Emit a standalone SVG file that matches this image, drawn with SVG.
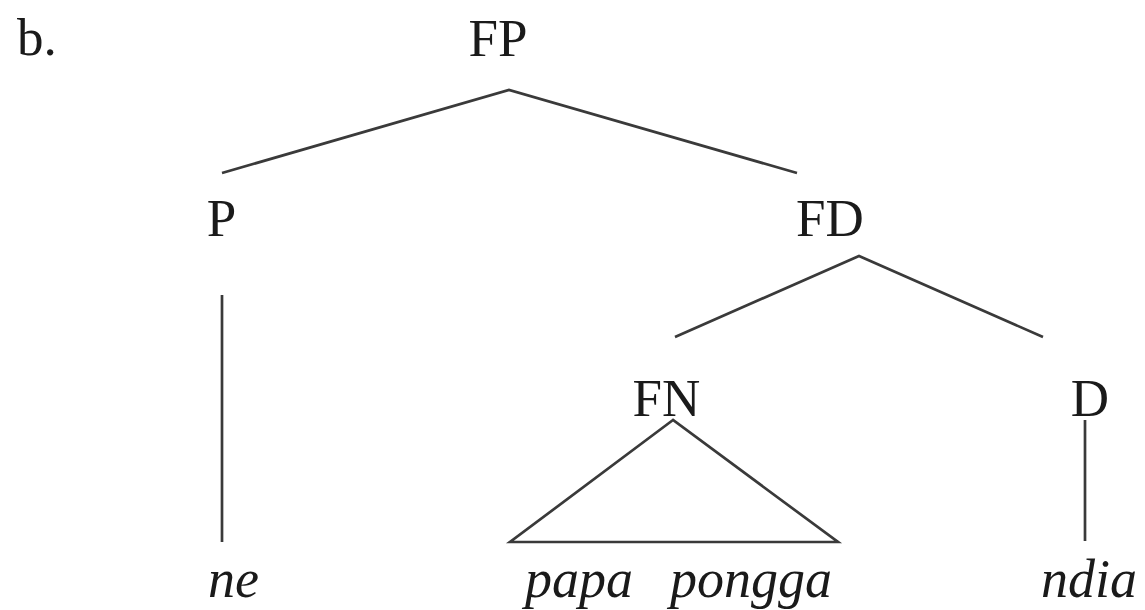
<svg xmlns="http://www.w3.org/2000/svg" width="1145" height="610" viewBox="0 0 1145 610">
  <style>
    text { font-family: 'Liberation Serif', Tinos, 'Times New Roman', Times, serif; font-size: 53px; fill: #1a1a1a; }
    .cat { text-anchor: middle; }
    .word { font-style: italic; font-size: 54px; }
    .edge { stroke: #3a3a3a; stroke-width: 2.7; fill: none; }
  </style>
  <rect width="1145" height="610" fill="#ffffff"/>

  <text x="17" y="55">b.</text>

  <g id="connectors">
    <polyline class="edge" points="222,173 509,90 797,173"/>
    <line class="edge" x1="222" y1="295" x2="222" y2="542"/>
    <polyline class="edge" points="675,337 859,256 1043,337"/>
    <polygon class="edge" points="673,420 510,542 838,542"/>
    <line class="edge" x1="1085" y1="420" x2="1085" y2="541"/>
  </g>

  <g id="node-FP"><text class="cat" x="498" y="56">FP</text></g>
  <g id="node-P"><text class="cat" x="221.5" y="236">P</text></g>
  <g id="node-FD"><text class="cat" x="830" y="236">FD</text></g>
  <g id="node-FN"><text class="cat" x="666.5" y="416">FN</text></g>
  <g id="node-D"><text class="cat" x="1090" y="416">D</text></g>
  <g id="node-ne"><text class="word" x="208" y="597">ne</text></g>
  <g id="node-papa-pongga">
    <text class="word" x="525" y="597">papa</text>
    <text class="word" x="670" y="597">pongga</text>
  </g>
  <g id="node-ndia"><text class="word" x="1041" y="597">ndia</text></g>
</svg>
